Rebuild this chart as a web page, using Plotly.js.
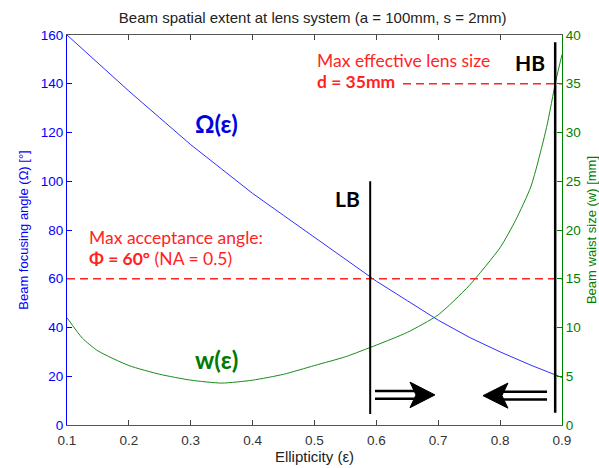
<!DOCTYPE html>
<html><head><meta charset="utf-8">
<script src="https://cdn.plot.ly/plotly-3.0.1.min.js"></script>
<style>html,body{margin:0;padding:0;background:#fff;}#chart{width:599px;height:468px;}</style>
</head><body><div id="chart"></div>
<script>
// Data
const epsOmega = [0.1,0.15,0.2,0.25,0.3,0.35,0.4,0.45,0.5,0.55,0.6,0.65,0.7,0.75,0.8,0.85,0.9];
const omegaDeg = [160,148.5,137,126,115,105,95,86,77,68,59,51,43,36,30,24.5,19.5];
const epsWaist = [0.1,0.125,0.15,0.2,0.25,0.3,0.35,0.4,0.45,0.5,0.55,0.6,0.65,0.7,0.75,0.8,0.825,0.85,0.875,0.89,0.9];
const waistMm = [11,8.9,7.6,6.1,5.2,4.6,4.3,4.6,5.2,6.1,7.0,8.2,9.5,11.3,14.3,18.2,21,24.5,30.5,35.3,38];
const xTicks = [0.1,0.2,0.3,0.4,0.5,0.6,0.7,0.8,0.9];
const yTicks = [0,20,40,60,80,100,120,140,160];
const y2Ticks = [0,5,10,15,20,25,30,35,40];
const acceptAngle = 60;      // Φ
const lensSize = 35;         // d (mm)
const lbEps = 0.59, hbEps = 0.889;

const RED = '#ff2424';
const font = 'Liberation Sans, Arial, sans-serif';
const lab = 'Lato, Open Sans, sans-serif';

const traces = [
  {x: epsOmega, y: omegaDeg, mode:'lines', line:{color:'#3030ff', width:1}, yaxis:'y', hoverinfo:'skip'},
  {x: epsWaist, y: waistMm, mode:'lines', line:{color:'#1a8a1a', width:1, shape:'spline', smoothing:0.6}, yaxis:'y2', hoverinfo:'skip'}
];

const shapes = [
  {type:'line', xref:'x', yref:'y', x0:0.1, x1:0.9, y0:acceptAngle, y1:acceptAngle, line:{color:RED, width:1.5, dash:'8px,5px'}},
  {type:'line', xref:'x', yref:'y2', x0:0.643, x1:0.9, y0:lensSize, y1:lensSize, line:{color:RED, width:1.5, dash:'8px,5px'}},
  {type:'line', xref:'x', yref:'y', x0:lbEps, x1:lbEps, y0:4.5, y1:100, line:{color:'#000', width:2}},
  {type:'line', xref:'x', yref:'y', x0:hbEps, x1:hbEps, y0:5, y1:157, line:{color:'#000', width:2.5}},
  // right arrow
  {type:'line', xref:'x', yref:'y', x0:0.5978, x1:0.668, y0:13.9, y1:13.9, line:{color:'#000', width:2.5}},
  {type:'line', xref:'x', yref:'y', x0:0.5978, x1:0.668, y0:10.8, y1:10.8, line:{color:'#000', width:2.5}},
  {type:'path', xref:'x', yref:'y', path:'M 0.6947 12.35 L 0.6543 17.6 L 0.664 12.35 L 0.6543 7.1 Z', fillcolor:'#000', line:{color:'#000', width:1}},
  // left arrow
  {type:'line', xref:'x', yref:'y', x0:0.799, x1:0.8758, y0:13.6, y1:13.6, line:{color:'#000', width:2.5}},
  {type:'line', xref:'x', yref:'y', x0:0.799, x1:0.8758, y0:10.5, y1:10.5, line:{color:'#000', width:2.5}},
  {type:'path', xref:'x', yref:'y', path:'M 0.7723 12.05 L 0.8127 17.2 L 0.803 12.05 L 0.8127 6.9 Z', fillcolor:'#000', line:{color:'#000', width:1}}
];

const ann = (x,y,text,opts) => Object.assign({xref:'x', yref:'y', x:x, y:y, text:text, showarrow:false}, opts);
const annotations = [
  ann(0.3408, 123.5, '<b>Ω(ε)</b>', {font:{family:lab, size:24, color:'#0000e0'}}),
  ann(0.3424, 26.7, '<b>w(ε)</b>', {font:{family:lab, size:24, color:'#007a00'}}),
  ann(0.554, 93.1, '<b>LB</b>', {font:{family:lab, size:21, color:'#000'}}),
  ann(0.848, 148.9, '<b>HB</b>', {font:{family:lab, size:21, color:'#000'}}),
  ann(0.5015, 149.7, 'Max effective lens size', {xanchor:'left', font:{family:lab, size:17.5, color:RED}}),
  ann(0.5015, 141.1, '<b>d = 35mm</b>', {xanchor:'left', font:{family:lab, size:17.5, color:RED}}),
  ann(0.1325, 76.9, 'Max acceptance angle:', {xanchor:'left', font:{family:lab, size:17.5, color:RED}}),
  ann(0.1325, 68.5, '<b>Φ = 60°</b> (NA = 0.5)', {xanchor:'left', font:{family:lab, size:17.5, color:RED}})
];

const layout = {
  width:599, height:468,
  margin:{l:67, r:37, t:35, b:43, pad:0},
  paper_bgcolor:'#fff', plot_bgcolor:'#fff',
  showlegend:false,
  font:{family:font, size:12, color:'#222'},
  title:{text:'Beam spatial extent at lens system (a = 100mm, s = 2mm)', x:0.522, xanchor:'center', y:0.963, yanchor:'middle', font:{family:font, size:15, color:'#222'}},
  xaxis:{range:[0.1,0.9], tickvals:xTicks, ticktext:xTicks.map(v=>v.toFixed(1)), ticks:'inside', ticklen:5, tickcolor:'#444',
    showline:true, linecolor:'#555', linewidth:1, mirror:'ticks', showgrid:false, zeroline:false, ticklabelstandoff:3,
    tickfont:{family:font, size:13.5, color:'#333'},
    title:{text:'Ellipticity (ε)', standoff:2, font:{family:font, size:15, color:'#222'}}},
  yaxis:{range:[0,160], tickvals:yTicks, ticks:'inside', ticklen:5, tickcolor:'#0000ff',
    showline:true, linecolor:'#0000ff', linewidth:1, showgrid:false, zeroline:false,
    tickfont:{family:font, size:13.5, color:'#0000ff'},
    title:{text:'Beam focusing angle (Ω) [°]', standoff:9, font:{family:font, size:13, color:'#0000ff'}}},
  yaxis2:{range:[0,40], tickvals:y2Ticks, overlaying:'y', side:'right', ticks:'inside', ticklen:5, tickcolor:'#008000',
    showline:true, linecolor:'#008000', linewidth:1, showgrid:false, zeroline:false,
    tickfont:{family:font, size:13.5, color:'#008000'},
    title:{text:'Beam waist size (w) [mm]', standoff:8, font:{family:font, size:13, color:'#008000'}}},
  shapes:shapes, annotations:annotations
};

Plotly.newPlot('chart', traces, layout, {staticPlot:true, displayModeBar:false});
</script></body></html>
